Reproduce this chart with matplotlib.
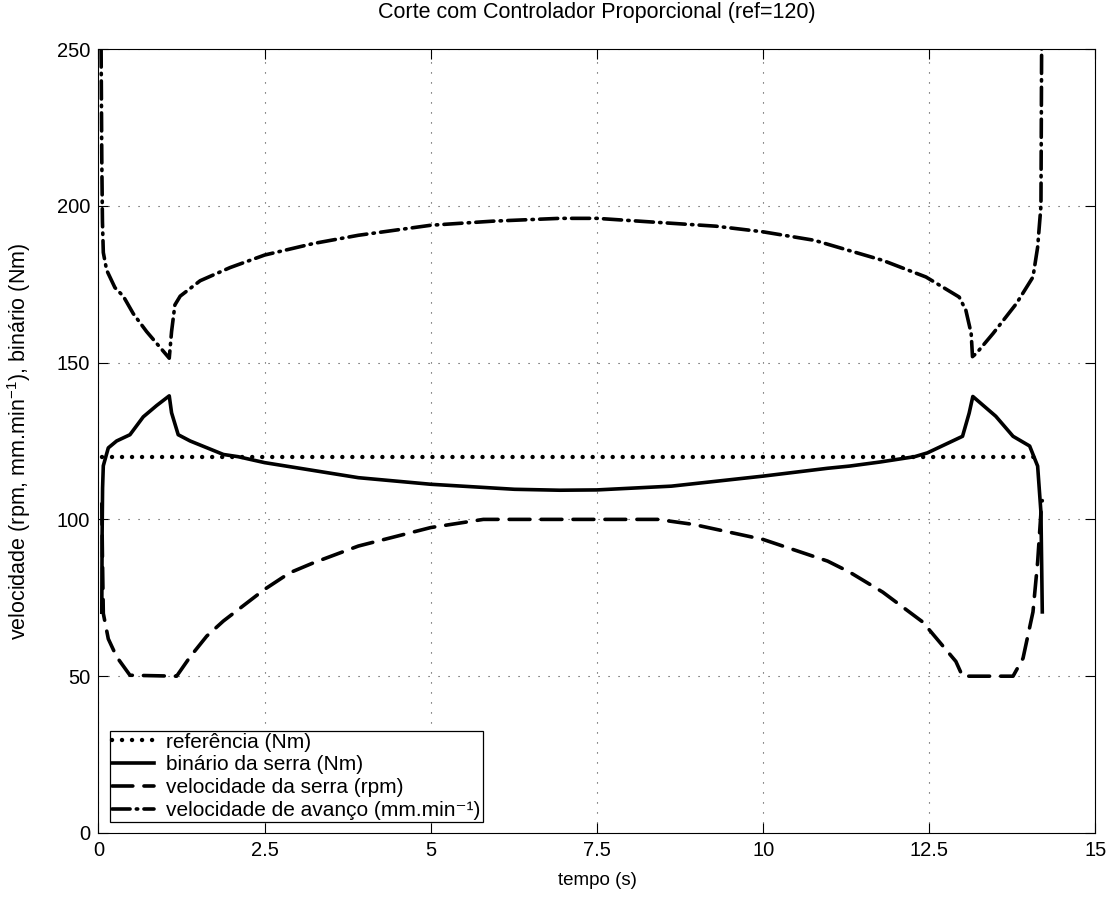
import matplotlib
matplotlib.use("Agg")
import matplotlib.pyplot as plt

plt.rcParams['font.family'] = ['Liberation Sans', 'DejaVu Sans']
plt.rcParams['lines.scale_dashes'] = False
plt.rcParams['mathtext.fontset'] = 'custom'
plt.rcParams['mathtext.rm'] = 'Liberation Sans'

# referencia (Nm)
t_ref = [0.05, 14.15]
referencia = [120, 120]

# binario da serra (Nm)
t_bin = [0.05, 0.055, 0.062, 0.073, 0.148, 0.273, 0.474, 0.674, 0.875, 1.065,
         1.1, 1.2, 1.38, 1.88, 2.1, 2.5, 3.91, 5.0, 6.26, 6.94, 7.5, 8.62,
         10.0, 10.97, 11.3, 11.76, 12.28, 12.47, 13.0, 13.1, 13.155, 13.5,
         13.76, 14.01, 14.13, 14.18, 14.2]
binario = [70.4, 95, 110, 117.1, 122.8, 125, 127, 132.7, 136.3, 139.4,
           134, 127, 125, 120.7, 120, 118.1, 113.3, 111.2, 109.6, 109.3, 109.4, 110.6,
           113.8, 116.3, 117, 118.3, 120, 121.2, 126.5, 133.9, 139.2, 132.9,
           126.5, 123.4, 117, 102.2, 70.5]

# velocidade da serra (rpm)
t_serra = [0.05, 0.06, 0.073, 0.148, 0.273, 0.474, 1.176, 1.38, 1.63, 1.88,
           2.5, 2.88, 3.24, 3.91, 5.0, 5.79, 8.41, 8.95, 10.0, 10.97, 11.3,
           11.8, 12.4, 12.9, 13.0, 13.76, 13.91, 14.06, 14.13, 14.18, 14.2]
serra = [105, 88, 70, 61.9, 56.2, 50.3, 50, 56.2, 62.8, 67.6,
         77.7, 83, 86.2, 91.5, 97.4, 100, 100, 98.4, 93.6, 86.7, 83.2,
         76.8, 67.3, 54.7, 50, 50, 55.7, 70.5, 86.4, 102.2, 106]

# velocidade de avanco (mm.min-1)
t_avanco = [0.04, 0.05, 0.06, 0.073, 0.123, 0.248, 0.373, 0.524, 0.724, 0.925,
            1.065, 1.1, 1.15, 1.23, 1.53, 1.98, 2.5, 3.24, 3.91, 5.0, 5.93,
            6.94, 7.5, 8.28, 9.29, 10.0, 10.77, 11.3, 11.8, 12.45, 12.95,
            13.05, 13.13, 13.15, 13.21, 13.46, 13.81, 14.06, 14.13, 14.18, 14.19]
avanco = [250, 215, 195, 185.1, 179.5, 173.9, 171.2, 165.6, 159.9, 154.9,
          151.4, 159.9, 168.4, 171.2, 176.1, 180.3, 184.3, 188, 190.6, 193.8, 195.1,
          196, 196, 194.9, 193.5, 191.7, 189, 185.7, 182.6, 177.3, 170.9,
          166.7, 159.3, 151.9, 153, 159.3, 168.8, 177.3, 186.8, 200, 250]

xticks = [0, 2.5, 5, 7.5, 10, 12.5, 15]
xticklabels = ['0', '2.5', '5', '7.5', '10', '12.5', '15']
yticks = [0, 50, 100, 150, 200, 250]

fig = plt.figure(figsize=(11.1, 9.06), dpi=100)
ax = fig.add_axes([0.0887, 0.0806, 0.8982, 0.8653])

lw = 2.6
ax.plot(t_ref, referencia, color='black', lw=3.2, linestyle=(0, (0.01, 7.2)),
        dash_capstyle='round', label='referência (Nm)')
ax.plot(t_bin, binario, color='black', lw=lw, solid_joinstyle='round',
        label='binário da serra (Nm)')
ax.plot(t_serra, serra, color='black', lw=lw, linestyle=(0, (15, 8)),
        dash_capstyle='round', label='velocidade da serra (rpm)')
ax.plot(t_avanco, avanco, color='black', lw=lw, linestyle=(0, (13, 4.5, 1, 4.5)),
        dash_capstyle='round', label='velocidade de avanço (mm.min⁻¹)')

ax.set_xlim(0, 15)
ax.set_ylim(0, 250)
ax.set_xticks(xticks)
ax.set_xticklabels(xticklabels)
ax.set_yticks(yticks)

ax.grid(True, color='0.25', lw=0.8, linestyle=(0, (0.8, 6.4)))
ax.tick_params(direction='in', length=7, width=0.8, top=True, right=True,
               labelsize=14.5, pad=6)
for s in ax.spines.values():
    s.set_linewidth(0.8)

ax.set_title('Corte com Controlador Proporcional (ref=120)', fontsize=15.5, pad=22)
ax.set_xlabel('tempo (s)', fontsize=13.5)
ax.xaxis.set_label_coords(0.5, -0.05)
ax.set_ylabel('velocidade (rpm, mm.min$^{-1}$), binário (Nm)', fontsize=15.5)
ax.yaxis.set_label_coords(-0.066, 0.5)

leg = ax.legend(loc='lower left', bbox_to_anchor=(0.0115, 0.014), borderaxespad=0,
                fontsize=15, fancybox=False, framealpha=1, edgecolor='black',
                labelspacing=0.18, handlelength=2.0, handletextpad=0.6,
                borderpad=0.1)
leg.get_frame().set_linewidth(0.9)

fig.savefig('out.png', dpi=100)
